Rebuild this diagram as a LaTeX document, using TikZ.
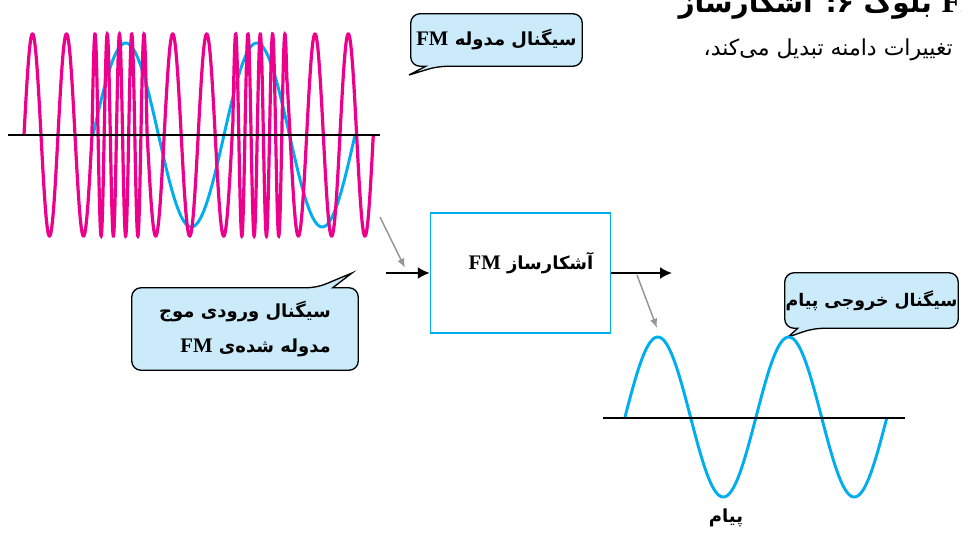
\documentclass[tikz,border=0pt]{standalone}
\usepackage{fontspec}
\usetikzlibrary{arrows.meta, calc, backgrounds}
\TeXXeTstate=1
\newfontfamily\fafont[Script=Arabic]{DejaVu Sans}
\newfontfamily\lafont[Scale=1.15]{Liberation Serif}
\definecolor{mgnt} {RGB}{236,  0,140}
\definecolor{cyn}  {RGB}{  0,174,239}
\definecolor{bfill}{RGB}{204,235,250}
\definecolor{gry}  {RGB}{150,150,150}
\newcommand{\fmtag}{\beginL{\lafont\bfseries FM}\endL}
\tikzset{
  % Speech bubble text
  SB/.style={draw=none,font=\fafont\bfseries\fontsize{13.5}{26}\selectfont,
             align=center,inner sep=0pt},
  % Speech bubble outline
  BL/.style={draw=black,fill=bfill,line width=1pt,rounded corners=7pt},
  % Waves and axes
  PW/.style={mgnt,line width=2.4pt},
  CW/.style={cyn,line width=2.2pt},
  AX/.style={black,line width=2pt},
  % Detector block
  DB/.style={rectangle,draw=cyn,line width=1.1pt,
             minimum width=135pt,minimum height=90pt},
  % Arrows
  Arr/.style ={-{Latex[length=9pt,width=9pt]},line width=1.5pt,black},
  GArr/.style={-{Latex[length=7pt,width=5.5pt]},line width=1.1pt,gry},
}
\begin{document}
\begin{tikzpicture}[x=0.75pt,y=-0.75pt]
  \useasboundingbox (0,0) rectangle (962,533);
  % Heading text, top right (cut by the page)
  \node[font=\fafont\bfseries\fontsize{21}{24}\selectfont,
        anchor=base east,inner sep=0pt]
        at (992,12) (hd1) {\beginR\fmtag{} بلوک ۶: آشکارساز\endR};
  \node[font=\fafont\fontsize{16.5}{18}\selectfont,
        anchor=base east,inner sep=0pt]
        at (953,55) (hd2) {\beginR تغییرات دامنه تبدیل می^^^^200cکند،\endR};
  % FM modulated signal — message under, carrier over
  \draw[CW] plot[domain=93:355,samples=200]
        (\x,{135-92*sin((360/131)*(\x-93))});
  \draw[PW] plot[domain=24:91.9,samples=250]
        (\x,{135-101*sin((360/34)*(\x-24))})
     -- plot[domain=91.9:147,samples=400]
        (\x,{135-101*sin(360*(2.25+(\x-95)/12.25))})
     -- plot[domain=147:232.9,samples=300]
        (\x,{135-101*sin(360*(7.25+(\x-172.7)/34))})
     -- plot[domain=232.9:286.9,samples=400]
        (\x,{135-101*sin(360*(9.25+(\x-235.7)/12.3))})
     -- plot[domain=286.9:373.3,samples=300]
        (\x,{135-101*sin(360*(14.25+(\x-315)/33.3))});
  \draw[AX] (8,135) -- (380,135);
  % Output message
  \draw[CW] plot[domain=625:887,samples=200]
        (\x,{417-80*sin((360/131)*(\x-625))});
  \draw[AX] (603,418) -- (905,418);
  \node[SB] at (726,518) (msg) {\beginR پیام\endR};
  % Detector
  \node[DB] at (520.5,273) (det) {};
  \node[SB] at (531,263) (detl) {\beginR آشکارساز \fmtag\endR};
  \coordinate (in)  at (386,273);
  \coordinate (out) at (672,273);
  \draw[Arr] (in) -- (det.west);
  \draw[Arr] (det.east) -- (out);
  % Pointers
  \coordinate (p1)  at (380,217);
  \coordinate (p1e) at (405,268);
  \coordinate (p2)  at (637,275);
  \coordinate (p2e) at (657,328);
  \draw[GArr] (p1) -- (p1e);
  \draw[GArr] (p2) -- (p2e);
  % Speech bubbles
  \node[SB,minimum width=128.25pt,minimum height=39pt]
        at (496.5,40) (sig1) {\beginR سیگنال مدوله \fmtag\endR};
  \node[SB,align=right,minimum width=169.5pt,minimum height=61.5pt]
        at (245,329) (sig2)
        {\beginR سیگنال ورودی موج\endR\\\beginR مدوله شده^^^^200cی \fmtag\endR};
  \node[SB,font=\fafont\bfseries\fontsize{13}{26}\selectfont,
        minimum width=129.75pt,minimum height=41.25pt]
        at (871.5,300.5) (sig3) {\beginR سیگنال خروجی پیام\endR};
  \begin{scope}[on background layer]
    \draw[BL] (sig1.north west) -- (sig1.north east) -- (sig1.south east)
      -- ($(sig1.south west)+(27,0)$) [sharp corners] -- (409,75)
      -- ($(sig1.south west)+(15,0)$) [rounded corners=7pt]
      -- (sig1.south west) -- cycle;
    \draw[BL] (sig2.south west) -- (sig2.north west)
      -- ($(sig2.north west)+(185,0)$) [sharp corners] -- (352,273)
      -- ($(sig2.north west)+(201,0)$) [rounded corners=7pt]
      -- (sig2.north east) -- (sig2.south east) -- cycle;
    \draw[BL] (sig3.north west) -- (sig3.north east) -- (sig3.south east)
      -- ($(sig3.south west)+(29,0)$) [sharp corners] -- (788,337)
      -- ($(sig3.south west)+(13,0)$) [rounded corners=7pt]
      -- (sig3.south west) -- cycle;
  \end{scope}
\end{tikzpicture}
\end{document}
